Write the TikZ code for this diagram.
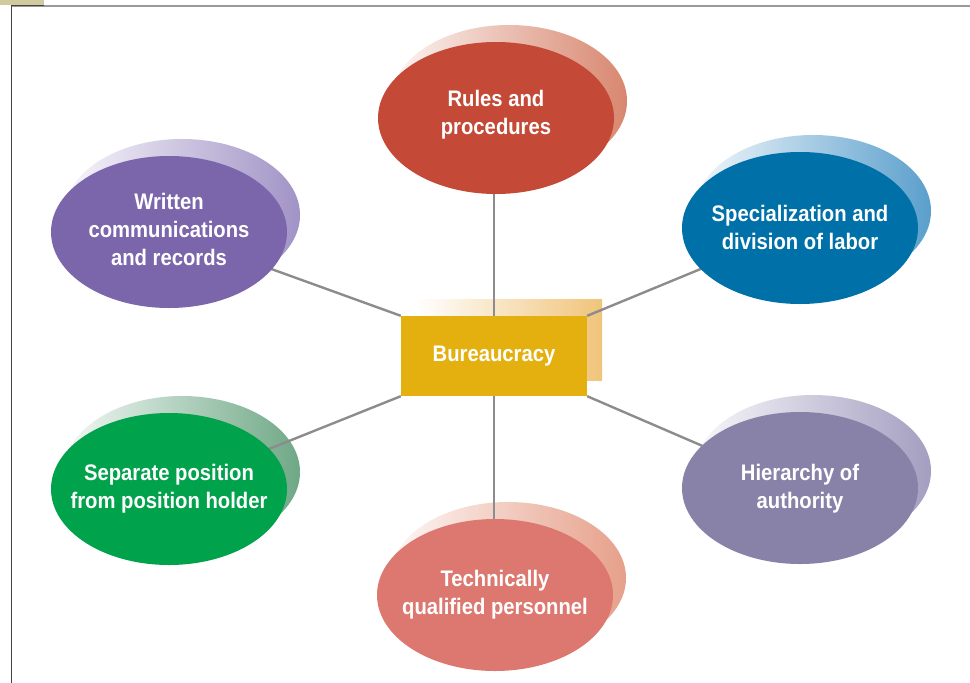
\documentclass[tikz,border=0pt]{standalone}
\usepackage{fontspec}
\setmainfont{Liberation Sans}
\newfontfamily\lblfont[FakeStretch=0.9]{Liberation Sans}
\usetikzlibrary{shapes.geometric}
\definecolor{rulesc}{HTML}{C44A37}
\definecolor{rulessh}{HTML}{D8876F}
\definecolor{specc}{HTML}{0070A8}
\definecolor{specsh}{HTML}{5A9FCC}
\definecolor{writc}{HTML}{7B66AC}
\definecolor{writsh}{HTML}{A193C6}
\definecolor{sepc}{HTML}{00A24B}
\definecolor{sepsh}{HTML}{6FA886}
\definecolor{hierc}{HTML}{8882A8}
\definecolor{hiersh}{HTML}{A49EC0}
\definecolor{techc}{HTML}{DD7870}
\definecolor{techsh}{HTML}{E6A08A}
\definecolor{boxc}{HTML}{E4B00F}
\definecolor{boxsh}{HTML}{F0C47A}
\definecolor{lineg}{HTML}{8C8C8C}
\definecolor{tanc}{HTML}{CFCB9E}
\definecolor{darkg}{HTML}{444444}
\definecolor{topg}{HTML}{9A9A9A}
\pgfdeclarelayer{shadowlayer}
\pgfdeclarelayer{linelayer}
\pgfdeclarelayer{bubblelayer}
\pgfsetlayers{shadowlayer,linelayer,bubblelayer,main}
\tikzset{
  lbl/.style={text=white, align=center, font=\lblfont\bfseries\fontsize{22.5}{28}\selectfont},
  bubble/.style={inner sep=0pt, lbl},
  hubbox/.style={rectangle, minimum width=186pt, minimum height=80pt, inner sep=0pt, fill=boxc, lbl},
  conn/.style={draw=lineg, line width=2.4pt},
}
\newcommand{\bubshadow}[2]{%
  \shade[left color=#2!8, right color=#2] ([shift={(13,-17)}]#1) ellipse [x radius=118, y radius=76];}
\newcommand{\bubfill}[2]{%
  \fill[#2] (#1) ellipse [x radius=118, y radius=76];}
\begin{document}
\begin{tikzpicture}[x=1pt,y=-1pt]
\useasboundingbox (0,0) rectangle (970,683);
% frame
\fill[tanc] (0,0) rectangle (44,5);
\draw[topg, line width=1.8pt] (11,6) -- (970,6);
\draw[darkg, line width=1.4pt] (11,5.3) -- (44,5.3);
\draw[darkg, line width=1.5pt] (11.5,5) -- (11.5,683);
% centres of the bubbles
\coordinate (rc) at (496,118);
\coordinate (sc) at (800,228);
\coordinate (wc) at (169,232);
\coordinate (pc) at (169,489);
\coordinate (hc) at (800,488);
\coordinate (tc) at (495,595);
% nodes
\node[hubbox] (b) at (494,356) {Bureaucracy};
\node[bubble] (r) at ([yshift=3]rc) {Rules and\\procedures};
\node[bubble] (s) at ([yshift=1]sc) {Specialization and\\division of labor};
\node[bubble] (w) at ([yshift=3]wc) {Written\\communications\\and records};
\node[bubble] (p) at (pc) {Separate position\\from position holder};
\node[bubble] (h) at ([yshift=-1]hc) {Hierarchy of\\authority};
\node[bubble] (t) at (tc) {Technically\\qualified personnel};
% bubbles
\begin{pgfonlayer}{bubblelayer}
\bubfill{rc}{rulesc}
\bubfill{sc}{specc}
\bubfill{wc}{writc}
\bubfill{pc}{sepc}
\bubfill{hc}{hierc}
\bubfill{tc}{techc}
\end{pgfonlayer}
% shadows
\begin{pgfonlayer}{shadowlayer}
\bubshadow{rc}{rulessh}
\bubshadow{sc}{specsh}
\bubshadow{wc}{writsh}
\bubshadow{pc}{sepsh}
\bubshadow{hc}{hiersh}
\bubshadow{tc}{techsh}
\shade[left color=white, right color=boxsh] ([shift={(15,-16)}]b.south west) rectangle ([shift={(15,-16)}]b.north east);
\end{pgfonlayer}
% connectors
\begin{pgfonlayer}{linelayer}
\draw[conn] (b.north) -- (b.north |- rc);
\draw[conn] (b.south) -- (b.south |- tc);
\draw[conn] (b.north west) -- (wc);
\draw[conn] (b.north east) -- (sc);
\draw[conn] (b.south west) -- (pc);
\draw[conn] (b.south east) -- (hc);
\end{pgfonlayer}
\end{tikzpicture}
\end{document}
